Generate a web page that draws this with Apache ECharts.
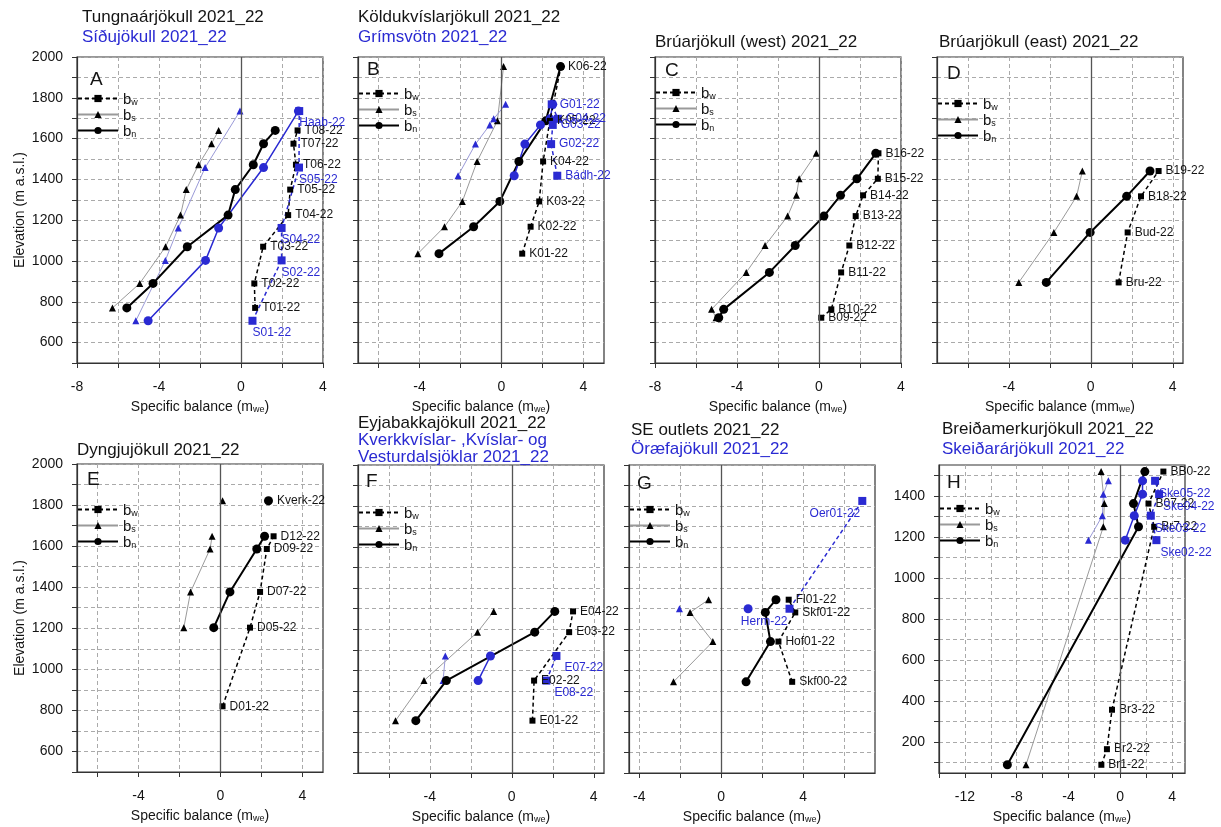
<!DOCTYPE html>
<html>
<head>
<meta charset="utf-8">
<title>Mass balance profiles 2021_22</title>
<script src="https://cdn.jsdelivr.net/npm/echarts@6.0.0/dist/echarts.min.js"></script>
<style>
  html, body { margin: 0; padding: 0; background: #fff; }
  #chart { width: 1221px; height: 827px; }
</style>
</head>
<body>
<div id="chart"></div>
<script>
// stake names, elevation (m a.s.l.) and winter / summer / net balance (m w.e.)

// A - Tungnaárjökull (black) / Síðujökull (blue)
var tungStakes = ['T01-22', 'T02-22', 'T03-22', 'T04-22', 'T05-22', 'T06-22', 'T07-22', 'T08-22'];
var tungElev = [770, 890, 1070, 1225, 1350, 1472, 1575, 1640];
var tungBw = [0.69, 0.65, 1.08, 2.30, 2.40, 2.68, 2.56, 2.76];
var tungBs = [-6.27, -4.94, -3.68, -2.95, -2.67, -2.07, -1.44, -1.09];
var tungBn = [-5.57, -4.29, -2.62, -0.63, -0.28, 0.60, 1.10, 1.67];

var sidStakes = ['S01-22', 'S02-22', 'S04-22', 'S05-22', 'Haab-22'];
var sidElev = [707, 1003, 1162, 1458, 1735];
var sidBw = [0.56, 1.98, 1.98, 2.83, 2.84];
var sidBs = [-5.13, -3.69, -3.06, -1.75, -0.05];
var sidBn = [-4.53, -1.73, -1.09, 1.10, 2.80];

// B - Köldukvíslarjökull / Grímsvötn
var koldStakes = ['K01-22', 'K02-22', 'K03-22', 'K04-22', 'K05-22', 'K06-22'];
var koldElev = [1036, 1168, 1292, 1488, 1687, 1953];
var koldBw = [1.01, 1.42, 1.84, 2.03, 2.36, 2.90];
var koldBs = [-4.08, -2.78, -1.91, -1.19, -0.20, 0.10];
var koldBn = [-3.05, -1.36, -0.08, 0.85, 2.16, 2.88];

var grimStakes = ['Bádh-22', 'G02-22', 'G03-22', 'G04-22', 'G01-22'];
var grimElev = [1418, 1573, 1667, 1697, 1768];
var grimBw = [2.72, 2.42, 2.50, 2.75, 2.45];
var grimBs = [-2.12, -1.27, -0.57, -0.38, 0.20];
var grimBn = [0.62, 1.14, 1.90, 2.37, 2.50];

// C - Brúarjökull (west)
var bruwStakes = ['B09-22', 'B10-22', 'B11-22', 'B12-22', 'B13-22', 'B14-22', 'B15-22', 'B16-22'];
var bruwElev = [722, 763, 944, 1076, 1220, 1322, 1403, 1528];
var bruwBw = [0.11, 0.60, 1.08, 1.48, 1.79, 2.15, 2.87, 2.90];
var bruwBs = [-5.02, -5.24, -3.55, -2.63, -1.53, -1.10, -0.97, -0.13];
var bruwBn = [-4.89, -4.65, -2.42, -1.16, 0.24, 1.05, 1.85, 2.77];

// D - Brúarjökull (east)
var brueStakes = ['Bru-22', 'Bud-22', 'B18-22', 'B19-22'];
var brueElev = [895, 1140, 1317, 1441];
var brueBw = [1.36, 1.80, 2.45, 3.31];
var brueBs = [-3.51, -1.80, -0.69, -0.41];
var brueBn = [-2.17, -0.03, 1.75, 2.89];

// E - Dyngjujökull (+ Kverkfjöll point)
var dyngStakes = ['D01-22', 'D05-22', 'D07-22', 'D09-22', 'D12-22'];
var dyngElev = [820, 1203, 1377, 1586, 1648];
var dyngBw = [0.10, 1.44, 1.93, 2.26, 2.59];
var dyngBs = [null, -1.79, -1.46, -0.51, -0.41];
var dyngBn = [null, -0.33, 0.46, 1.77, 2.15];

var kverkStakes = ['Kverk-22'];
var kverkElev = [1821];
var kverkBs = [0.10];
var kverkBn = [2.34];

// F - Eyjabakkajökull / Kverkkvíslar-, Kvíslar- og Vesturdalsjöklar
var eyjaStakes = ['E01-22', 'E02-22', 'E03-22', 'E04-22'];
var eyjaElev = [755, 950, 1186, 1287];
var eyjaBw = [1.01, 1.09, 2.80, 2.99];
var eyjaBs = [-5.67, -4.28, -1.67, -0.88];
var eyjaBn = [-4.68, -3.19, 1.12, 2.10];

var vestStakes = ['E08-22', 'E07-22'];
var vestElev = [950, 1070];
var vestBw = [1.69, 2.18];
var vestBs = [-3.35, -3.24];
var vestBn = [-1.64, -1.04];

// G - SE outlets / Öræfajökull
var seStakes = ['Skf00-22', 'Hof01-22', 'Skf01-22', 'Fl01-22'];
var seElev = [944, 1140, 1282, 1344];
var seBw = [3.46, 2.79, 3.61, 3.29];
var seBs = [-2.33, -0.41, -1.52, -0.62];
var seBn = [1.21, 2.40, 2.15, 2.67];

var oraeStakes = ['Herm-22', 'Oer01-22'];
var oraeElev = [1300, 1825];
var oraeBw = [3.33, 6.88];
var oraeBs = [-2.04, null];
var oraeBn = [1.31, null];

// H - Breiðamerkurjökull / Skeiðarárjökull
var breiStakes = ['Br1-22', 'Br2-22', 'Br3-22', 'Br7-22', 'B07-22', 'BB0-22'];
var breiElev = [90, 166, 358, 1249, 1362, 1518];
var breiBw = [-1.46, -1.03, -0.64, 2.62, 2.18, 3.33];
var breiBs = [-7.28, null, null, -1.31, -1.23, -1.48];
var breiBn = [-8.72, null, null, 1.41, 1.02, 1.90];

var skeiStakes = ['Ske02-22', 'Ske03-22', 'Ske04-22', 'Ske05-22'];
var skeiElev = [1184, 1303, 1408, 1473];
var skeiBw = [2.79, 2.36, 3.00, 2.69];
var skeiBs = [-2.46, -1.38, -1.31, -0.92];
var skeiBn = [0.38, 1.08, 1.72, 1.72];

// ---------------------------------------------------------------
var FONT = '"Liberation Sans", Arial, sans-serif';
var BLUE = '#2a2ad2';
var INK = '#141414';

// panel layout: grid rect [left, top, width, height], axis ranges, titles
var panels = [
  {grid: [77, 57, 246, 306], x: [-8, 4], y: [500, 2000], yLab: true, yName: true, unit: 'm',
   titles: [['Tungnaárjökull 2021_22', INK], ['Síðujökull 2021_22', BLUE]], tpos: [82, 17, 20],
   letter: ['A', 96, 80], legend: [77, 98]},
  {grid: [358, 57, 246, 306], x: [-7, 5], y: [500, 2000], unit: 'm',
   titles: [['Köldukvíslarjökull 2021_22', INK], ['Grímsvötn 2021_22', BLUE]], tpos: [358, 17, 20],
   letter: ['B', 373, 70], legend: [358, 93]},
  {grid: [655, 57, 246, 306], x: [-8, 4], y: [500, 2000], unit: 'm',
   titles: [['Brúarjökull (west) 2021_22', INK]], tpos: [655, 42, 20],
   letter: ['C', 671, 71], legend: [655, 92]},
  {grid: [937, 57, 246, 306], x: [-7.5, 4.5], y: [500, 2000], unit: 'mm',
   titles: [['Brúarjökull (east) 2021_22', INK]], tpos: [939, 42, 20],
   letter: ['D', 953, 74], legend: [937, 103]},
  {grid: [77, 464, 246, 308], x: [-7, 5], y: [500, 2000], yLab: true, yName: true, unit: 'm',
   titles: [['Dyngjujökull 2021_22', INK]], tpos: [77, 450, 20],
   letter: ['E', 93, 480], legend: [77, 509]},
  {grid: [358, 465, 246, 308], x: [-7.5, 4.5], y: [500, 2000], unit: 'm',
   titles: [['Eyjabakkajökull 2021_22', INK], ['Kverkkvíslar- ,Kvíslar- og', BLUE], ['Vesturdalsjöklar 2021_22', BLUE]],
   tpos: [358, 423, 17], letter: ['F', 372, 482], legend: [358, 512]},
  {grid: [629, 465, 246, 308], x: [-4.5, 7.5], y: [500, 2000], unit: 'm',
   titles: [['SE outlets 2021_22', INK], ['Öræfajökull 2021_22', BLUE]], tpos: [631, 430, 19],
   letter: ['G', 643, 484], legend: [629, 509]},
  {grid: [939, 465, 246, 308], x: [-14, 5], y: [50, 1550], yLab: true, unit: 'm',
   titles: [['Breiðamerkurjökull 2021_22', INK], ['Skeiðarárjökull 2021_22', BLUE]], tpos: [942, 429, 20],
   letter: ['H', 953, 483], legend: [939, 508]}
];

var groups = [
  {p: 0, stakes: tungStakes, elev: tungElev, bw: tungBw, bs: tungBs, bn: tungBn},
  {p: 0, stakes: sidStakes, elev: sidElev, bw: sidBw, bs: sidBs, bn: sidBn, blue: true, lab: ['right', [-8, 12]]},
  {p: 1, stakes: koldStakes, elev: koldElev, bw: koldBw, bs: koldBs, bn: koldBn},
  {p: 1, stakes: grimStakes, elev: grimElev, bw: grimBw, bs: grimBs, bn: grimBn, blue: true, lab: ['right', [0, 0]]},
  {p: 2, stakes: bruwStakes, elev: bruwElev, bw: bruwBw, bs: bruwBs, bn: bruwBn},
  {p: 3, stakes: brueStakes, elev: brueElev, bw: brueBw, bs: brueBs, bn: brueBn},
  {p: 4, stakes: dyngStakes, elev: dyngElev, bw: dyngBw, bs: dyngBs, bn: dyngBn},
  {p: 4, stakes: kverkStakes, elev: kverkElev, bs: kverkBs, bn: kverkBn},
  {p: 5, stakes: eyjaStakes, elev: eyjaElev, bw: eyjaBw, bs: eyjaBs, bn: eyjaBn},
  {p: 5, stakes: vestStakes, elev: vestElev, bw: vestBw, bs: vestBs, bn: vestBn, blue: true, lab: ['right', [0, 12]]},
  {p: 6, stakes: seStakes, elev: seElev, bw: seBw, bs: seBs, bn: seBn},
  {p: 6, stakes: oraeStakes, elev: oraeElev, bw: oraeBw, bs: oraeBs, bn: oraeBn, blue: true, lab: ['left', [6, 13]]},
  {p: 7, stakes: breiStakes, elev: breiElev, bw: breiBw, bs: breiBs, bn: breiBn},
  {p: 7, stakes: skeiStakes, elev: skeiElev, bw: skeiBw, bs: skeiBs, bn: skeiBn, blue: true, lab: ['right', [-4, 13]]}
];

function pts(xs, elev, names) {
  var out = [];
  for (var i = 0; i < elev.length; i++) {
    if (xs[i] !== null && xs[i] !== undefined) out.push([xs[i], elev[i], names[i]]);
  }
  return out;
}

function range(lo, hi, step) {
  var out = [];
  for (var v = Math.ceil(lo / step) * step; v <= hi + 1e-9; v += step) out.push(v);
  return out;
}

var subRich = {
  n: {fontSize: 14, fontFamily: FONT, color: INK, lineHeight: 17, verticalAlign: 'bottom'},
  s: {fontSize: 9, fontFamily: FONT, color: INK, lineHeight: 10, verticalAlign: 'bottom'}
};

var grids = [], xAxes = [], yAxes = [], titles = [], legends = [], series = [];

panels.forEach(function (p, i) {
  grids.push({left: p.grid[0], top: p.grid[1], width: p.grid[2], height: p.grid[3],
    show: true, borderColor: '#333', borderWidth: 1.2, backgroundColor: 'transparent'});

  xAxes.push({
    gridIndex: i, type: 'value', min: p.x[0], max: p.x[1],
    axisLine: {onZero: false, lineStyle: {color: '#333', width: 1.2}},
    axisTick: {show: true, length: 5, customValues: range(p.x[0], p.x[1], 2), lineStyle: {color: '#333'}},
    axisLabel: {customValues: range(p.x[0], p.x[1], 4), fontSize: 14, color: INK, fontFamily: FONT, margin: 17,
      formatter: function (v) { return String(v); }},
    splitLine: {show: true, lineStyle: {type: [4, 3], color: '#aaa', width: 1}},
    name: '{n|Specific balance (' + p.unit + '}{s|we}{n|)}',
    nameLocation: 'middle', nameGap: 34,
    nameTextStyle: {rich: subRich}
  });

  var yTicks = range(p.y[0], p.y[1], 100);
  yAxes.push({
    gridIndex: i, type: 'value', min: p.y[0], max: p.y[1],
    axisLine: {onZero: false, lineStyle: {color: '#333', width: 1.2}},
    axisTick: {show: true, length: 5, customValues: yTicks, lineStyle: {color: '#333'}},
    axisLabel: {show: !!p.yLab, customValues: range(p.y[0], p.y[1], 200).filter(function (v) { return v >= 200; }),
      fontSize: 14, color: INK, fontFamily: FONT, margin: 14,
      formatter: function (v) { return String(v); }},
    splitLine: {show: true, lineStyle: {type: [4, 3], color: '#aaa', width: 1}},
    name: p.yName ? 'Elevation (m a.s.l.)' : '',
    nameLocation: 'middle', nameGap: 50,
    nameTextStyle: {fontSize: 14, color: INK, fontFamily: FONT}
  });

  p.titles.forEach(function (t, k) {
    titles.push({text: t[0], left: p.tpos[0], top: p.tpos[1] - 9 + k * p.tpos[2], padding: 0,
      textStyle: {fontSize: 17, fontWeight: 'normal', color: t[1], fontFamily: FONT, lineHeight: 18}});
  });
  titles.push({text: p.letter[0], left: p.letter[1] - 6, top: p.letter[2] - 10, padding: 0,
    textStyle: {fontSize: 19, fontWeight: 'normal', color: INK, fontFamily: FONT, lineHeight: 20}});

  legends.push({
    data: ['bw', 'bs', 'bn'], orient: 'vertical', left: p.legend[0], top: p.legend[1] - 6,
    itemWidth: 40, itemHeight: 9, itemGap: 1, padding: 0, selectedMode: false,
    formatter: function (name) { return '{b|b}{s|' + name.slice(1) + '}'; },
    textStyle: {rich: {
      b: {fontSize: 15, fontFamily: FONT, color: INK, lineHeight: 17, verticalAlign: 'bottom'},
      s: {fontSize: 9, fontFamily: FONT, color: INK, lineHeight: 10, verticalAlign: 'bottom'}
    }}
  });
});

groups.forEach(function (g) {
  var col = g.blue ? BLUE : '#000';
  var suffix = g.blue ? '-blue' : '';
  var lab = g.lab || ['right', [0, 0]];
  var labelOnBn = !g.bw;
  var stakeLabel = {
    show: true, position: lab[0], offset: lab[1], distance: 4,
    formatter: function (q) { return q.data[2]; },
    fontSize: 12, color: g.blue ? BLUE : INK, fontFamily: FONT
  };

  series.push({
    name: 'bs' + suffix, type: 'line', xAxisIndex: g.p, yAxisIndex: g.p,
    data: pts(g.bs, g.elev, g.stakes), symbol: 'triangle', symbolSize: 7,
    lineStyle: {color: g.blue ? '#9a9ad8' : '#9a9a9a', width: 1},
    itemStyle: {color: col}, z: 2, silent: true
  });
  series.push({
    name: 'bn' + suffix, type: 'line', xAxisIndex: g.p, yAxisIndex: g.p,
    data: pts(g.bn, g.elev, g.stakes), symbol: 'circle', symbolSize: 9,
    lineStyle: {color: col, width: g.blue ? 1.5 : 2},
    itemStyle: {color: col}, z: 3, silent: true,
    label: labelOnBn ? stakeLabel : {show: false}
  });
  if (g.bw) {
    var bwSeries = {
      name: 'bw' + suffix, type: 'line', xAxisIndex: g.p, yAxisIndex: g.p,
      data: pts(g.bw, g.elev, g.stakes), symbol: 'rect', symbolSize: g.blue ? 8 : 6,
      lineStyle: {color: col, width: 1.5, type: [4, 3]},
      itemStyle: {color: col}, z: 4, silent: true,
      label: stakeLabel
    };
    if (!g.blue) {
      bwSeries.markLine = {
        silent: true, symbol: 'none', label: {show: false},
        lineStyle: {color: '#555', type: 'solid', width: 1.3},
        data: [{xAxis: 0}]
      };
    }
    series.push(bwSeries);
  }
});

var chart = echarts.init(document.getElementById('chart'), null, {renderer: 'canvas'});
chart.setOption({
  animation: false,
  backgroundColor: '#fff',
  textStyle: {fontFamily: FONT},
  title: titles,
  legend: legends,
  grid: grids,
  xAxis: xAxes,
  yAxis: yAxes,
  series: series
});
</script>
</body>
</html>
